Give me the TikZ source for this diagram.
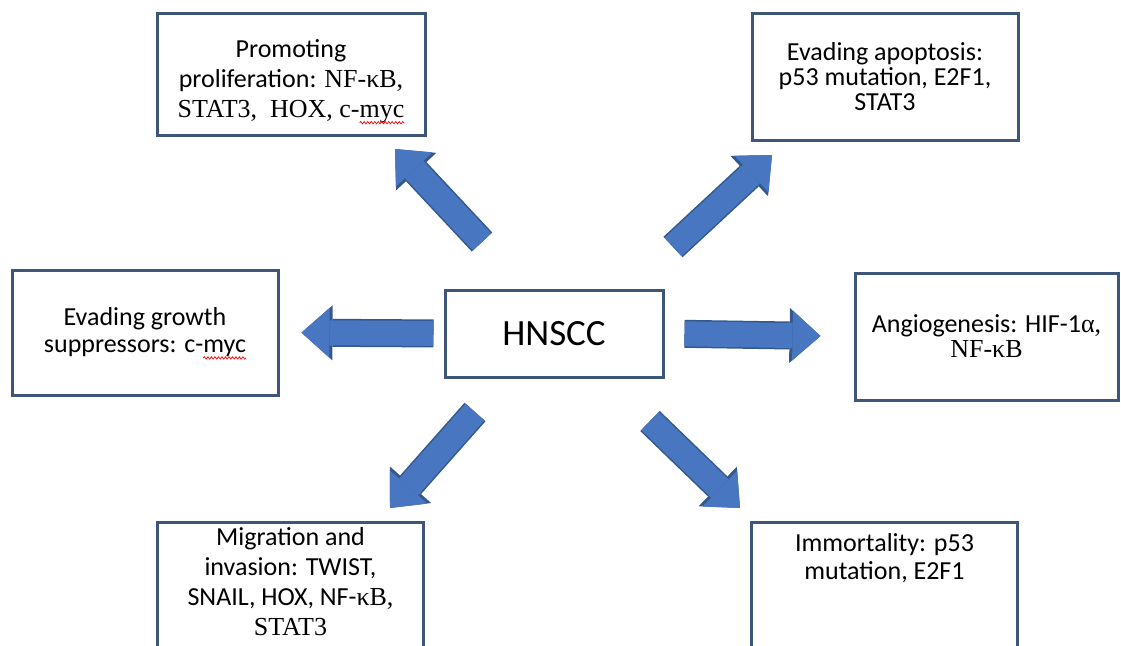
\documentclass[tikz,border=0pt]{standalone}
\usepackage{fontspec}
\setmainfont{Carlito}
\newfontfamily\tms{Liberation Serif}
\usetikzlibrary{arrows.meta,decorations.pathmorphing}

\definecolor{boxedge}{RGB}{62,86,122}
\definecolor{arrowfill}{RGB}{72,118,192}
\definecolor{arrowedge}{RGB}{52,88,140}

% red spell-check wave under a word
\newcommand\redwave[1]{\tikz[baseline=(w.base)]{%
    \node[inner sep=0pt, outer sep=0pt, draw=none, fill=none, minimum size=0pt] (w) {#1};
    \draw[overlay, red, line width=0.7pt, decorate, decoration={snake, amplitude=1.2pt, segment length=3.5pt}]
        ([yshift=-5pt]w.base west) -- ([yshift=-5pt]w.base east);}}
\newcommand\boxfont[1]{\fontsize{26}{#1}\selectfont}

\tikzset{
    box/.style={draw=boxedge, line width=3pt, fill=white, align=center,
        font=\boxfont{27}, minimum width=266pt, minimum height=125pt},
    blockarr/.style={line width=25pt, draw=arrowfill,
        -{Triangle[width=50pt,length=28pt,line width=0pt]},
        preaction={draw=arrowedge, line width=28pt,
            -{Triangle[width=55pt,length=31pt,line width=0pt]}}}
}

\begin{document}
\begin{tikzpicture}[x=1pt,y=-1pt]
    \useasboundingbox (0,0) rectangle (1121,645);

    % centre box
    \node[box, minimum width=218pt, minimum height=87pt, font=\fontsize{37}{40}\selectfont] (hnscc) at (554,333.5) {HNSCC};

    % hallmark boxes
    \node[box, minimum width=268pt, minimum height=122pt, font=\boxfont{30}, text height=93pt] (prolif) at (291,74)
        {Promoting\\proliferation: {\tms NF-κB,}\\{\tms STAT3,\ \ HOX, c-\redwave{myc}}};
    \node[box, minimum height=127pt, font=\boxfont{25}] (apopt) at (885,76.5)
        {Evading apoptosis:\\p53 mutation, E2F1,\\STAT3};
    \node[box] (growth) at (145,332.5)
        {Evading growth\\suppressors: c-\redwave{myc}};
    \node[box, minimum width=263pt, minimum height=127pt, font=\boxfont{25}] (angio) at (986.5,336.5)
        {Angiogenesis: HIF-1{\tms α,}\\{\tms NF-κB}};
    \node[box, minimum height=130pt, font=\boxfont{30}, text depth=12pt] (migr) at (290.5,587)
        {Migration and\\invasion: TWIST,\\SNAIL, HOX, NF-{\tms κB,}\\{\tms STAT3}};
    \node[box, minimum height=130pt, font=\boxfont{28}, text depth=62pt] (immort) at (884.5,587)
        {Immortality: p53\\mutation, E2F1};

    % free ends of the diagonal arrows
    \coordinate (nwtail) at (482,242);
    \coordinate (nwhead) at (395,149);
    \coordinate (netail) at (673,247);
    \coordinate (nehead) at (772,155);
    \coordinate (swtail) at (475,412);
    \coordinate (swhead) at (390,508);
    \coordinate (setail) at (650,421);
    \coordinate (sehead) at (740,508);

    % block arrows
    \draw[blockarr, shorten <=10pt, shorten >=22pt] (hnscc.west) -- (growth.east);
    \draw[blockarr, shorten <=20pt, shorten >=33pt] (hnscc.east) -- (angio.west);
    \draw[blockarr] (nwtail) -- (nwhead);
    \draw[blockarr] (netail) -- (nehead);
    \draw[blockarr] (swtail) -- (swhead);
    \draw[blockarr] (setail) -- (sehead);
\end{tikzpicture}
\end{document}
